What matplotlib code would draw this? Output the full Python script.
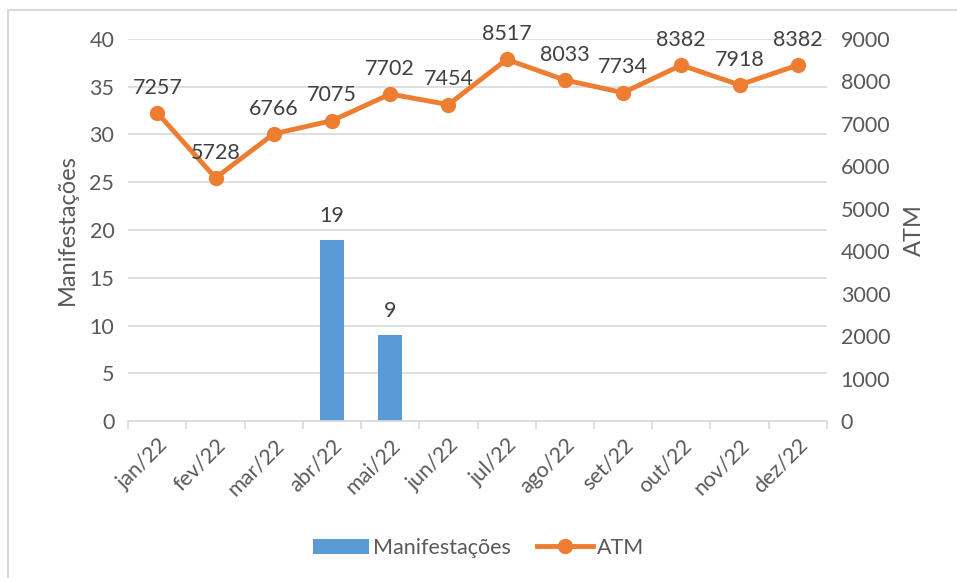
import matplotlib.pyplot as plt
from matplotlib.patches import Rectangle

# dados
meses = ['jan/22', 'fev/22', 'mar/22', 'abr/22', 'mai/22', 'jun/22',
         'jul/22', 'ago/22', 'set/22', 'out/22', 'nov/22', 'dez/22']
manifestacoes = [0, 0, 0, 19, 9, 0, 0, 0, 0, 0, 0, 0]
atm = [7257, 5728, 6766, 7075, 7702, 7454, 8517, 8033, 7734, 8382, 7918, 8382]

cinza = '#595959'
azul = '#5B9BD5'
laranja = '#ED7D31'

plt.rcParams['font.family'] = ['Lato', 'DejaVu Sans']

fig = plt.figure(figsize=(9.57, 5.78), dpi=100)
fig.patches.append(Rectangle((0.008, -0.01), 1.2, 0.993, transform=fig.transFigure,
                             fill=False, edgecolor='#D9D9D9', linewidth=1.5))

ax = fig.add_axes([0.134, 0.2716, 0.73, 0.661])
ax2 = ax.twinx()

x = list(range(len(meses)))
barras = ax.bar(x, manifestacoes, width=0.41, color=azul, label='Manifestações', zorder=2)
for xi, v in zip(x, manifestacoes):
    if v:
        ax.annotate(str(v), (xi, v), xytext=(0, 10), textcoords='offset points',
                    ha='center', va='bottom', fontsize=15.5, color='#404040')

linha, = ax2.plot(x, atm, color=laranja, linewidth=3.5, marker='o', markersize=10,
                  label='ATM', zorder=3)
for xi, v in zip(x, atm):
    ax2.annotate(str(v), (xi, v), xytext=(0, 11), textcoords='offset points',
                 ha='center', va='bottom', fontsize=15.5, color='#404040')

ax.set_xlim(-0.5, 11.5)
ax.set_ylim(0, 40)
ax.set_yticks(range(0, 41, 5))
ax2.set_ylim(0, 9000)
ax2.set_yticks(range(0, 9001, 1000))

ax.grid(axis='y', color='#D9D9D9', linewidth=1.2, zorder=0)
ax.set_axisbelow(True)

for a in (ax, ax2):
    for s in a.spines.values():
        s.set_visible(False)
ax.spines['bottom'].set_visible(True)
ax.spines['bottom'].set_color('#D9D9D9')
ax.spines['bottom'].set_linewidth(1.2)

ax.set_xticks([i + 0.5 for i in range(-1, 12)], minor=False)
ax.set_xticklabels([])
ax.tick_params(axis='x', which='major', length=6, color='#D9D9D9', width=1.2)
ax.set_xticks(x, minor=True)
ax.set_xticklabels(meses, minor=True, rotation=45, ha='right', rotation_mode='anchor',
                   fontsize=15.5, color=cinza)
ax.tick_params(axis='x', which='minor', length=0, pad=10)

ax.tick_params(axis='y', length=0, labelsize=15.5, labelcolor=cinza, pad=10)
ax2.tick_params(axis='y', length=0, labelsize=15.5, labelcolor=cinza, pad=10)

ax.set_ylabel('Manifestações', fontsize=17, color=cinza, labelpad=8)
ax2.set_ylabel('ATM', fontsize=17, color=cinza, labelpad=10)

fig.legend([barras, linha], ['Manifestações', 'ATM'], loc='center',
           bbox_to_anchor=(0.5, 0.052), ncol=2, frameon=False, fontsize=15.5,
           labelcolor=cinza, handlelength=2.6, columnspacing=1.2, handletextpad=0.2)

fig.savefig('out.png', dpi=100)
